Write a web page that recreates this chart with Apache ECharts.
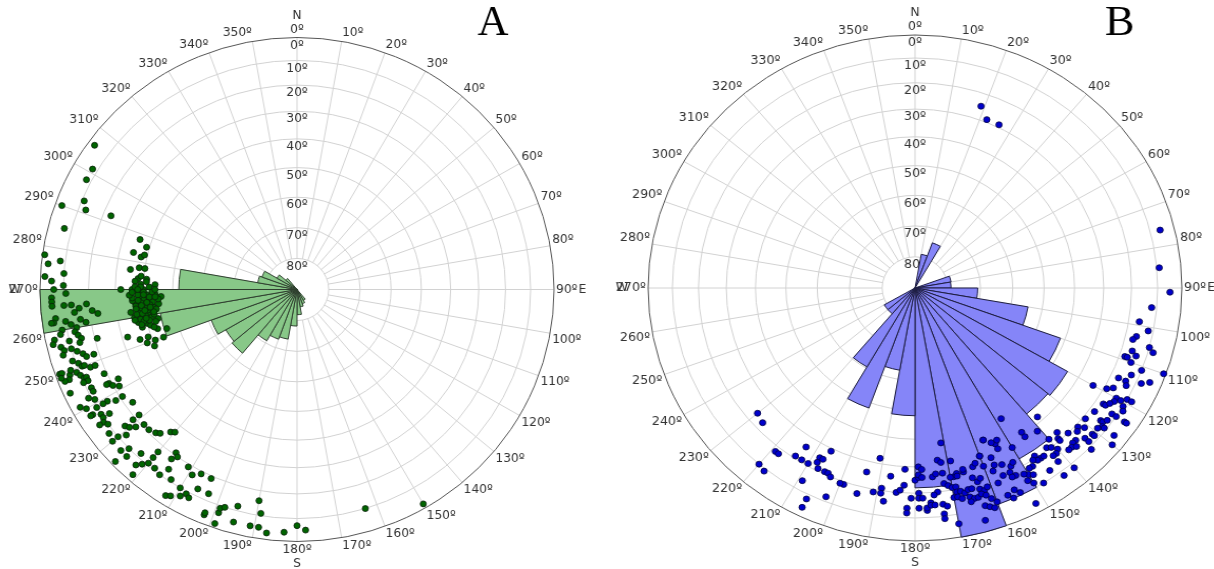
<!DOCTYPE html>
<html><head><meta charset="utf-8">
<script src="https://cdn.jsdelivr.net/npm/echarts@6.0.0/dist/echarts.min.js"></script>
<style>
html,body{margin:0;padding:0;background:#fff;overflow:hidden;width:1214px;height:569px;}
#chartA{position:absolute;left:0;top:0;width:607px;height:569px;transform-origin:297px 50%;transform:scaleX(1.02);}
#chartB{position:absolute;left:607px;top:0;width:607px;height:569px;transform-origin:308px 50%;transform:scaleX(1.055);}
</style></head><body>
<div id="chartA"></div><div id="chartB"></div>
<script>
// ---------- data ----------
const dipTicks = [0, 10, 20, 30, 40, 50, 60, 70, 80];
const cardinalLabels = { 0: 'N', 90: 'E', 180: 'S', 270: 'W' };
const roseBins = ['0-10','10-20','20-30','30-40','40-50','50-60','60-70','70-80','80-90','90-100',
  '100-110','110-120','120-130','130-140','140-150','150-160','160-170','170-180','180-190','190-200',
  '200-210','210-220','220-230','230-240','240-250','250-260','260-270','270-280','280-290','290-300',
  '300-310','310-320','320-330','330-340','340-350','350-360'];
// relative rose lengths (fraction of outer radius), one per 10-degree bin
const roseA = [null,null,null,null,null,null,null,null,null,null,
  null,null,null,null,0.05,0.06,0.07,0.1,0.145,0.20,
  0.21,0.235,0.33,0.32,0.355,0.54,1.0,0.46,0.155,0.145,
  0.09,0.057,null,null,null,null];
const roseB = [null,0.135,0.19,null,null,null,null,0.137,0.135,0.235,
  0.43,0.58,0.66,0.65,0.78,0.91,1.0,0.79,0.505,0.33,
  0.505,0.36,0.133,0.133,null,null,null,null,null,null,
  null,null,null,null,null,null];
// poles: [azimuth (deg), dip (deg)]
const pointsA = [[306,3],[301,8],[298,8],[290,3],[293,11],[291,13],[292,23],[285,7],[288,36],[286,39],[283,35],[282,38],[283,39],[278,1],[277,8],[276,3],[277,35],[278,38],[278,40],[273,2],[274,10],[272,5],[271,10],[270,32],[270,6],[268,5],[267,5],[266,5],[269,11],[266,10],[266,13],[266,19],[265,16],[264,21],[263,23],[264,14],[262,10],[263,6],[262,5],[262,4],[261,12],[262,16],[260,14],[261,18],[260,8],[259,7],[259,13],[258,14],[258,4],[257,10],[257,15],[256,21],[254,32],[252,36],[252,39],[250,41],[250,38],[248,40],[250,44],[253,46],[254,43],[267,46],[274,38],[275,39],[274,41],
[257,3],[256,6],[255,10],[256,14],[255,7],[254,12],[253,14],[252,18],[254,6],[252,15],
[252,9],[251,11],[250,12],[250,13],[249,15],[249,17],[246,19],[250,2],[250,3],[249,6],[250,7],[249,9],[248,10],[247,11],[247,12],[246,12],[246,10],[248,5],[248,3],[249,2],[243,23],[243,19],[243,18],[242,20],[241,22],[244,12],[243,12],[245,3],[238,21],[241,11],[242,9],[239,15],[238,18],[241,4],[240,6],[239,13],[239,10],[236,13],[237,10],[235,23],[238,7],[238,6],[236,10],[235,9],[234,10],[235,7],[231,22],[231,19],[231,15],[230,16],[229,18],[228,21],[226,21],[224,22],[223,23],[221,26],[220,27],[232,8],[230,10],[229,13],[230,7],[227,7],[226,10],[225,7],[226,2],[223,12],[220,17],[220,14],[216,21],[215,20],[216,18],[220,11],[221,9],[218,11],[216,10],[215,14],[213,11],[211,19],[209,17],[207,19],[204,19],[222,7],[221,3],[210,10],[208,9],[207,8],[206,13],[203,13],[212,4],[211,5],[209,7],[202,4],[202,5],[199,7],[199,9],[198,10],[195,12],[190,16],[189,11],[199,2],[195,5],[191,5],[189,5],[187,3],[183,4],[180,7],[178,5],[163,10],[150,2],
[270,40],[269,38],[268,41],[267,39],[266,42],[265,37],[264,40],[263,43],[262,38],[261,41],[260,39],[259,42],[258,37],[257,40],[271,42],[272,39],[273,37],[270,36],[268,44],[266,36],[264,45],[262,44],[260,36],[258,44],[256,41],[269,43],[267,36],[265,43],[263,39],[261,37],[259,38],[257,43],[271,37],[272,44],[268,38],[266,40],[264,37],[262,41],[260,43],[258,39],[269,40],[267,42],[265,39],[263,41],[261,43],[259,36],[270,44],[268,35],[266,45],[264,42],[262,35],[260,40],[258,41],[256,38],[273,41],[271,39],[269,36],[267,44],[265,41],[263,37],[261,39],[259,40],[257,38],[255,42],[266,38],[264,39],[262,40],[268,40],[270,38],[263,42]];
const pointsB = [[19,25],[22,29],[26,29],[76,6],[85,9],[91,5],[95,12],[99,16],[101,12],[103,16],[104,17],[107,16],[108,14],[109,18],[109,17],[110,15],[105,10],[106,8],[111,10],[110,1],[113,13],[115,17],[115,14],[114,8],[113,5],[116,13],[120,24],[119,19],[118,17],[120,14],[121,14],[120,12],[119,10],[119,8],[123,17],[123,16],[122,15],[121,10],[124,12],[122,9],[126,18],[124,10],[124,6],[124,5],[129,19],[127,14],[127,13],[128,12],[128,11],[126,12],[138,32],[148,39],[131,17],[132,19],[133,18],[129,13],[135,20],[141,28],[145,31],[145,29],[137,23],[138,21],[138,20],[133,14],[133,12],[131,13],[131,12],[135,16],[136,16],[137,15],[136,14],[138,15],[128,6],[130,4],[134,9],[140,23],[142,21],[141,20],[140,18],[141,17],[142,17],[142,14],[145,19],[146,21],[144,19],[146,19],[147,20],[148,18],[149,18],[150,16],[151,17],[149,15],[145,13],[143,8],[140,8],[150,28],[157,28],[157,25],[155,24],[153,22],[152,23],[158,23],[156,20],[154,20],[153,18],[157,35],[154,32],[153,33],[160,30],[160,26],
[230,24],[227,23],[219,18],[218,18],[220,10],[218,9],[214,21],[213,26],[212,21],[210,21],[208,25],[207,25],[208,23],[206,29],[207,21],[205,21],[204,21],[203,20],[209,14],[206,8],[206,4],[202,12],[199,19],[200,19],[195,17],[194,26],[191,19],[189,21],[189,19],[188,16],[191,32],[187,26],[185,20],[184,21],[183,23],[183,29],[180,25],[179,26],[182,14],[182,12],[181,18],[179,30],[178,29],[179,27],[178,26],[179,20],[179,18],[178,18],[179,14],[177,13],[177,14],[176,16],[176,15],[175,15],[175,26],[174,27],[174,20],[175,19],[171,38],[173,32],[172,31],[172,27],[172,23],[171,22],[173,15],[172,14],[173,11],[173,9],[169,31],[169,25],[170,25],[168,26],[168,25],[166,26],[166,27],[170,21],[169,21],[169,19],[168,19],[170,17],[169,17],[168,16],[167,18],[170,6],[166,19],[165,19],[163,18],[162,17],[161,18],[166,16],[165,15],[164,15],[163,16],[162,15],[161,13],[160,11],[163,27],[162,28],[160,30],[157,35],[155,33],[154,30],[164,23],[163,21],[162,22],[163,11],[162,10],[161,9],[164,5],[166,14],[154,18],[158,18],[155,13],[157,12],[154,11],[156,10],[152,4],[151,14],[150,12],[148,10]];

// ---------- equal-area projection of dip onto the radius axis ----------
function proj(dip) { return Math.sin((90 - dip) / 2 * Math.PI / 180) / Math.SQRT1_2; }
function unproj(v) { return 90 - 2 * Math.asin(Math.min(1, v * Math.SQRT1_2)) * 180 / Math.PI; }

function buildOption(cfg) {
  const R = cfg.radius, c = cfg.center, fs = cfg.fontSize;
  const font = 'DejaVu Sans';
  const lbl = (extra) => Object.assign({ fontFamily: font, fontSize: fs, color: '#333' }, extra || {});
  const ringVals = dipTicks.map(proj);
  const gridVals = ringVals.filter(v => v < 0.999);
  const w2 = fs * 1.75, w3 = fs * 2.4, lh = fs;
  return {
    animation: false,
    title: { text: cfg.title, left: cfg.titleLeft, top: 3, padding: 0,
      textStyle: { fontFamily: 'Liberation Serif', fontSize: 42, fontWeight: 'normal', color: '#000' } },
    polar: [
      { center: c, radius: R },
      { center: c, radius: [R * proj(80), R] },
      { center: c, radius: R },
      { center: c, radius: R }
    ],
    angleAxis: [
      { polarIndex: 0, type: 'value', min: 0, max: 360, interval: 10, startAngle: 90, clockwise: true,
        axisLine: { show: true, lineStyle: { color: '#555', width: 1 } },
        axisTick: { show: false }, splitLine: { show: false },
        axisLabel: Object.assign(lbl(), { margin: 2,
          formatter: function (v) {
            if (v >= 360) return '';
            const t = v + 'º';
            if (v === 10) return '{l2|' + t + '}';
            if (v === 170) return '{l3|' + t + '}';
            if (v === 350 || v === 190) return '{r3|' + t + '}';
            if (v === 80 || v === 280) return '{b|' + t + '}';
            if (v === 100 || v === 260) return '{t|' + t + '}';
            return t;
          },
          rich: {
            l2: lbl({ padding: [0, 0, 0, w2] }),
            l3: lbl({ padding: [0, 0, 0, w3] }),
            r3: lbl({ padding: [0, w3, 0, 0] }),
            b: lbl({ padding: [0, 0, lh, 0] }),
            t: lbl({ padding: [lh, 0, 0, 0] })
          } }) },
      { polarIndex: 1, type: 'value', min: 0, max: 360, interval: 10, startAngle: 90, clockwise: true,
        axisLine: { show: false }, axisTick: { show: false }, axisLabel: { show: false },
        splitLine: { show: true, lineStyle: { color: '#d2d2d2', width: 1 } } },
      { polarIndex: 2, type: 'value', min: 0, max: 360, interval: 90, startAngle: 90, clockwise: true,
        axisLine: { show: false }, axisTick: { show: false }, splitLine: { show: false },
        axisLabel: Object.assign(lbl(), { margin: 16,
          formatter: function (v) {
            const k = cardinalLabels[v];
            if (!k || v >= 360) return '';
            if (k === 'E') return '{e|E}';
            if (k === 'W') return '{w|W}';
            return k;
          },
          rich: { e: lbl({ padding: [0, 0, 0, 8] }), w: lbl({ padding: [0, 3, 0, 0] }) } }) },
      { polarIndex: 3, type: 'category', data: roseBins, boundaryGap: true, startAngle: 90, clockwise: true, show: false }
    ],
    radiusAxis: [
      { polarIndex: 0, type: 'value', min: 0, max: 1,
        axisLine: { show: false },
        axisTick: { show: false, customValues: gridVals },
        splitLine: { show: true, lineStyle: { color: '#d2d2d2', width: 1 } },
        axisLabel: Object.assign(lbl(), { customValues: ringVals, margin: 0, align: 'center', verticalAlign: 'top',
          padding: [2, 0, 0, 0],
          formatter: v => Math.round(unproj(v)) + 'º' }) },
      { polarIndex: 1, type: 'value', min: 0, max: 1, show: false },
      { polarIndex: 2, type: 'value', min: 0, max: 1, show: false },
      { polarIndex: 3, type: 'value', min: 0, max: 1, show: false }
    ],
    series: [
      { type: 'bar', coordinateSystem: 'polar', polarIndex: 3, data: cfg.rose, barCategoryGap: '0%', barGap: '0%',
        silent: true, z: 2,
        itemStyle: { color: cfg.barColor, borderColor: cfg.barBorder, borderWidth: 1 } },
      { type: 'scatter', coordinateSystem: 'polar', polarIndex: 0, silent: true, z: 3,
        data: cfg.points.map(p => [proj(p[1]), p[0]]),
        symbolSize: 6,
        itemStyle: { color: cfg.pointColor, borderColor: cfg.pointBorder, borderWidth: 0.8, opacity: 1 } }
    ]
  };
}

const chartA = echarts.init(document.getElementById('chartA'), null, { renderer: 'canvas' });
chartA.setOption(buildOption({
  title: 'A', titleLeft: 474, center: [297, 289.5], radius: 252, fontSize: 12,
  rose: roseA, points: pointsA,
  barColor: '#88c888', barBorder: '#2e3e2e', pointColor: '#006400', pointBorder: '#0b200b'
}));
const chartB = echarts.init(document.getElementById('chartB'), null, { renderer: 'canvas' });
chartB.setOption(buildOption({
  title: 'B', titleLeft: 488, center: [308, 288], radius: 253, fontSize: 12,
  rose: roseB, points: pointsB,
  barColor: '#8585f8', barBorder: '#1c1c40', pointColor: '#0000cc', pointBorder: '#000040'
}));
</script>
</body></html>
